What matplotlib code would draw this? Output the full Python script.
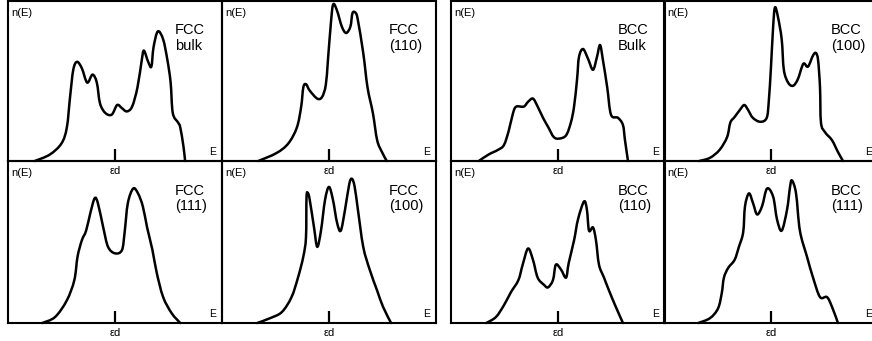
import matplotlib
matplotlib.use("Agg")
import matplotlib.pyplot as plt
import numpy as np
from matplotlib.path import Path
from matplotlib.patches import PathPatch

plt.rcParams['font.family'] = ['Liberation Sans', 'DejaVu Sans']

# d-band densities of states, energy relative to the band centre (εd = 0),
# n(E) in arbitrary units (1 = top of panel)
fcc_bulk_e = [-0.75, -0.61, -0.50, -0.45, -0.42, -0.39, -0.355, -0.31, -0.26, -0.21, -0.17, -0.14,
              -0.09, -0.03, 0.02, 0.065, 0.11, 0.16, 0.21, 0.25, 0.27, 0.31, 0.34, 0.36, 0.40,
              0.45, 0.49, 0.52, 0.54, 0.59, 0.61, 0.64, 0.655]
fcc_bulk_n = [0.0, 0.04, 0.11, 0.21, 0.40, 0.57, 0.62, 0.58, 0.49, 0.54, 0.49, 0.36,
              0.30, 0.29, 0.35, 0.33, 0.31, 0.34, 0.46, 0.63, 0.69, 0.62, 0.59, 0.71, 0.81,
              0.76, 0.63, 0.49, 0.30, 0.24, 0.21, 0.09, 0.0]

fcc110_e = [-0.66, -0.49, -0.38, -0.30, -0.26, -0.24, -0.215, -0.18, -0.11, -0.065, -0.03, -0.01,
            0.02, 0.04, 0.075, 0.12, 0.16, 0.20, 0.22, 0.25, 0.27, 0.32, 0.36, 0.41, 0.45,
            0.495, 0.54]
fcc110_n = [0.0, 0.05, 0.11, 0.21, 0.34, 0.46, 0.48, 0.44, 0.39, 0.40, 0.475, 0.63,
            0.88, 0.98, 0.94, 0.84, 0.80, 0.84, 0.925, 0.925, 0.88, 0.675, 0.46, 0.30, 0.13,
            0.056, 0.0]

fcc111_e = [-0.68, -0.56, -0.45, -0.38, -0.35, -0.31, -0.27, -0.23, -0.19, -0.16, -0.11, -0.065,
            0.0, 0.065, 0.09, 0.12, 0.17, 0.215, 0.26, 0.30, 0.35, 0.39, 0.45, 0.53, 0.61]
fcc111_n = [0.0, 0.037, 0.14, 0.265, 0.41, 0.51, 0.57, 0.68, 0.77, 0.74, 0.59, 0.47,
            0.43, 0.45, 0.56, 0.74, 0.83, 0.80, 0.72, 0.59, 0.45, 0.31, 0.16, 0.06, 0.0]

fcc100_e = [-0.67, -0.55, -0.44, -0.35, -0.29, -0.24, -0.215, -0.21, -0.196, -0.18, -0.14, -0.11,
            -0.075, -0.037, 0.0, 0.037, 0.075, 0.11, 0.15, 0.19, 0.215, 0.24, 0.27, 0.32,
            0.38, 0.45, 0.505, 0.58]
fcc100_n = [0.0, 0.03, 0.068, 0.16, 0.28, 0.41, 0.53, 0.78, 0.80, 0.76, 0.59, 0.47,
            0.57, 0.76, 0.84, 0.76, 0.62, 0.57, 0.70, 0.86, 0.89, 0.84, 0.70, 0.47,
            0.33, 0.20, 0.10, 0.0]

bcc_bulk_e = [-0.74, -0.65, -0.56, -0.505, -0.46, -0.42, -0.39, -0.32, -0.28, -0.234, -0.19, -0.14,
              -0.09, -0.04, 0.01, 0.075, 0.12, 0.15, 0.178, 0.196, 0.234, 0.28, 0.327, 0.364,
              0.393, 0.42, 0.46, 0.495, 0.56, 0.607, 0.626, 0.654]
bcc_bulk_n = [0.0, 0.04, 0.07, 0.10, 0.19, 0.30, 0.34, 0.34, 0.37, 0.39, 0.34, 0.27,
              0.21, 0.15, 0.14, 0.16, 0.24, 0.34, 0.51, 0.65, 0.70, 0.64, 0.57, 0.65,
              0.725, 0.63, 0.46, 0.29, 0.27, 0.225, 0.13, 0.0]

bcc100_e = [-0.67, -0.57, -0.48, -0.41, -0.38, -0.34, -0.29, -0.25, -0.215, -0.17, -0.10, -0.04,
            -0.02, 0.0, 0.02, 0.037, 0.065, 0.10, 0.12, 0.16, 0.206, 0.25, 0.29, 0.31, 0.346,
            0.393, 0.42, 0.44, 0.458, 0.467, 0.505, 0.57, 0.626, 0.673]
bcc100_n = [0.0, 0.02, 0.07, 0.15, 0.24, 0.275, 0.32, 0.35, 0.32, 0.27, 0.245, 0.27,
            0.38, 0.59, 0.84, 0.96, 0.90, 0.76, 0.57, 0.49, 0.47, 0.51, 0.59, 0.61, 0.59,
            0.66, 0.675, 0.63, 0.46, 0.24, 0.18, 0.13, 0.056, 0.0]

bcc110_e = [-0.67, -0.58, -0.505, -0.44, -0.37, -0.33, -0.28, -0.234, -0.19, -0.13, -0.093, -0.047,
            -0.02, 0.028, 0.075, 0.10, 0.15, 0.187, 0.243, 0.27, 0.29, 0.327, 0.355, 0.383,
            0.43, 0.477, 0.54, 0.607]
bcc110_n = [0.0, 0.037, 0.11, 0.19, 0.265, 0.36, 0.46, 0.39, 0.28, 0.235, 0.22, 0.265,
            0.36, 0.33, 0.28, 0.37, 0.51, 0.64, 0.75, 0.70, 0.57, 0.59, 0.51, 0.36,
            0.28, 0.20, 0.10, 0.0]

bcc111_e = [-0.68, -0.57, -0.495, -0.46, -0.44, -0.40, -0.34, -0.30, -0.26, -0.243, -0.206, -0.168,
            -0.13, -0.084, -0.037, 0.02, 0.056, 0.10, 0.15, 0.178, 0.196, 0.234, 0.27, 0.336,
            0.393, 0.458, 0.523, 0.57, 0.626]
bcc111_n = [0.0, 0.03, 0.09, 0.185, 0.28, 0.34, 0.39, 0.47, 0.56, 0.72, 0.80, 0.74,
            0.67, 0.72, 0.83, 0.78, 0.64, 0.57, 0.70, 0.84, 0.88, 0.80, 0.57, 0.41,
            0.28, 0.16, 0.16, 0.10, 0.0]

labels = ["FCC\nbulk", "FCC\n(110)", "FCC\n(111)", "FCC\n(100)",
          "BCC\nBulk", "BCC\n(100)", "BCC\n(110)", "BCC\n(111)"]
energies = [fcc_bulk_e, fcc110_e, fcc111_e, fcc100_e, bcc_bulk_e, bcc100_e, bcc110_e, bcc111_e]
dos = [fcc_bulk_n, fcc110_n, fcc111_n, fcc100_n, bcc_bulk_n, bcc100_n, bcc110_n, bcc111_n]


def smooth_path(x, y):
    # Catmull-Rom curve through the points, drawn as cubic Bezier segments
    p = np.column_stack([x, y])
    ext = np.vstack([p[0], p, p[-1]])
    verts = [p[0]]
    codes = [Path.MOVETO]
    for i in range(1, len(ext) - 2):
        p0, p1, p2, p3 = ext[i - 1], ext[i], ext[i + 1], ext[i + 2]
        verts += [p1 + (p2 - p0) / 6, p2 - (p3 - p1) / 6, p2]
        codes += [Path.CURVE4] * 3
    return Path(verts, codes)


W, H = 872, 341
fig = plt.figure(figsize=(W / 100, H / 100), dpi=100)

# panel boxes in pixels
col_left = [8, 222, 451, 664]
row_top = [1, 161]
row_h = [160, 162]
# order: FCC bulk, FCC(110), FCC(111), FCC(100), BCC bulk, BCC(100), BCC(110), BCC(111)
cells = [(0, 0), (1, 0), (0, 1), (1, 1), (2, 0), (3, 0), (2, 1), (3, 1)]

for (c, r), label, e, n in zip(cells, labels, energies, dos):
    left, top, w, h = col_left[c], row_top[r], 214, row_h[r]
    ax = fig.add_axes([left / W, 1 - (top + h) / H, w / W, h / H])
    ax.set_facecolor('none')
    ax.add_patch(PathPatch(smooth_path(e, n), fill=False, edgecolor='black', lw=1.8,
                           joinstyle='round', capstyle='round', clip_on=False))
    ax.set_xlim(-1, 1)
    ax.set_ylim(0, 1)
    for sp in ax.spines.values():
        sp.set_linewidth(1.5)
        sp.set_color('black')
    ax.set_yticks([])
    ax.set_xticks([0])
    ax.set_xticklabels(['εd'])
    ax.tick_params(axis='x', direction='in', length=9, width=1.6, pad=3.5, labelsize=8)
    ax.text(0.015, 0.955, 'n(E)', transform=ax.transAxes, ha='left', va='top', fontsize=8)
    ax.text(0.972, 0.025, 'E', transform=ax.transAxes, ha='right', va='bottom', fontsize=7.5)
    ax.text(0.78, 0.86, label, transform=ax.transAxes, ha='left', va='top', fontsize=10.5,
            linespacing=1.15)

fig.savefig('out.png', dpi=100)
